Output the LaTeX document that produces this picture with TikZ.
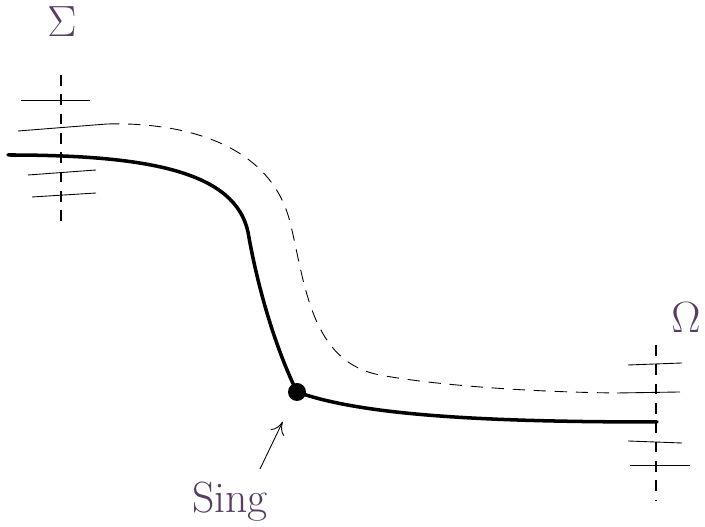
\documentclass[tikz,border=0pt]{standalone}
\usepackage{xcolor}
\usetikzlibrary{arrows.meta,positioning}
\definecolor{lbl}{HTML}{583D63}

\begin{document}
\begin{tikzpicture}[font=\Huge,
  lab/.style={text=lbl,inner sep=0pt},
  axis/.style={line width=1pt,dash pattern=on 6pt off 5pt},
  tick/.style={line width=0.5pt},
  main/.style={line width=2pt,line cap=round},
  arr/.style={-{To[length=2.5mm,width=3mm]},line width=0.5pt}]
\useasboundingbox (0,0) rectangle (14.1,10.54);
% labels
\node[lab] (sigma) at (1.24,10.1) {$\Sigma$};
\node[lab] (omega) at (13.72,4.18) {$\Omega$};
\node[lab] (singlab) at (4.6,0.5) {Sing};
% vertical dashed lines
\coordinate (la) at (1.22,9.04);
\coordinate (lb) at (1.22,6.04);
\coordinate (ra) at (13.12,3.64);
\coordinate (rb) at (13.12,0.54);
\draw[axis] (la) -- (lb);
\draw[axis] (ra) -- (rb);
% ticks
\draw[tick] (0.42,8.54) -- (1.8,8.54);
\draw[tick] (0.56,7.04) -- (1.92,7.14);
\draw[tick] (0.64,6.6) -- (1.92,6.68);
\draw[tick] (12.56,3.24) -- (13.64,3.28);
\draw[tick] (12.56,1.72) -- (13.64,1.68);
\draw[tick] (12.6,1.24) -- (13.8,1.24);
% dashed curve
\coordinate (da) at (0.36,7.92);
\coordinate (db) at (2.14,8.06);
\coordinate (dc) at (12.34,2.68);
\coordinate (dd) at (13.6,2.70);
\draw[tick] (da) -- (db);
\draw[tick,dash pattern=on 7pt off 5pt] (db)
  .. controls (3.6,8.1) and (5.4,7.7) .. (5.8,6.1)
  .. controls (6.1,4.9) and (6.2,3.3) .. (7.6,3.04)
  .. controls (8.6,2.85) and (10.5,2.7) .. (dc);
\draw[tick] (dc) -- (dd);
% solid curve
\node[circle,fill=black,inner sep=0pt,minimum size=0.36cm] (sing) at (5.94,2.70) {};
\draw[main] (0.16,7.44)
  .. controls (3.0,7.44) and (4.7,7.1) .. (4.96,5.9)
  .. controls (5.15,4.8) and (5.5,3.6) .. (sing.center);
\draw[main] (sing.center)
  .. controls (7.2,2.25) and (9.5,2.1) .. (13.14,2.1);
\coordinate (tail) at (5.2,1.16);
\draw[arr,shorten >=0.66cm] (tail) -- (sing.center);
\end{tikzpicture}
\end{document}
